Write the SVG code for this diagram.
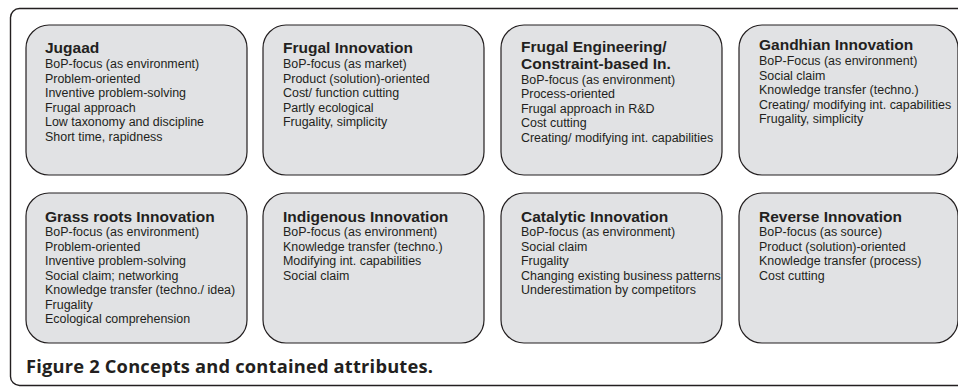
<svg xmlns="http://www.w3.org/2000/svg" width="958" height="388" viewBox="0 0 958 388">
<style>
.frame{fill:#fff;stroke:#231f20;stroke-width:1.4}
.box{fill:#e1e2e4;stroke:#231f20;stroke-width:1.2}
.t{font-family:"Liberation Sans",Arial,sans-serif;font-size:15.5px;font-weight:bold;fill:#231f20}
.b{font-family:"Liberation Sans",Arial,sans-serif;font-size:12.45px;fill:#231f20}
.cap{font-family:"Open Sans","Liberation Sans",sans-serif;font-size:18.3px;font-weight:bold;fill:#231f20}
</style>
<rect width="958" height="388" fill="#fff"/>
<rect class="frame" x="10.5" y="8.5" width="960" height="377" rx="9"/>
<g id="jugaad">
<rect class="box" x="26" y="25" width="221" height="150" rx="23"/>
<text class="t" x="45" y="53">Jugaad</text>
<text class="b" x="45" y="68">BoP-focus (as environment)</text>
<text class="b" x="45" y="82.5">Problem-oriented</text>
<text class="b" x="45" y="97">Inventive problem-solving</text>
<text class="b" x="45" y="111.5">Frugal approach</text>
<text class="b" x="45" y="126">Low taxonomy and discipline</text>
<text class="b" x="45" y="140.5">Short time, rapidness</text>
</g>
<g id="frugal-innovation">
<rect class="box" x="263" y="25" width="221" height="150" rx="23"/>
<text class="t" x="283" y="53">Frugal Innovation</text>
<text class="b" x="283" y="68">BoP-focus (as market)</text>
<text class="b" x="283" y="82.5">Product (solution)-oriented</text>
<text class="b" x="283" y="97">Cost/ function cutting</text>
<text class="b" x="283" y="111.5">Partly ecological</text>
<text class="b" x="283" y="126">Frugality, simplicity</text>
</g>
<g id="frugal-engineering">
<rect class="box" x="501" y="25" width="221" height="150" rx="23"/>
<text class="t" x="521" y="52">Frugal Engineering/</text>
<text class="t" x="521" y="69">Constraint-based In.</text>
<text class="b" x="521" y="83.5">BoP-focus (as environment)</text>
<text class="b" x="521" y="98">Process-oriented</text>
<text class="b" x="521" y="112.5">Frugal approach in R&amp;D</text>
<text class="b" x="521" y="127">Cost cutting</text>
<text class="b" x="521" y="141.5">Creating/ modifying int. capabilities</text>
</g>
<g id="gandhian">
<rect class="box" x="739" y="25" width="219" height="150" rx="23"/>
<text class="t" x="759" y="50">Gandhian Innovation</text>
<text class="b" x="759" y="65">BoP-Focus (as environment)</text>
<text class="b" x="759" y="79.5">Social claim</text>
<text class="b" x="759" y="94">Knowledge transfer (techno.)</text>
<text class="b" x="759" y="108.5">Creating/ modifying int. capabilities</text>
<text class="b" x="759" y="123">Frugality, simplicity</text>
</g>
<g id="grass-roots">
<rect class="box" x="26" y="193" width="221" height="150" rx="23"/>
<text class="t" x="45" y="222">Grass roots Innovation</text>
<text class="b" x="45" y="236">BoP-focus (as environment)</text>
<text class="b" x="45" y="250.5">Problem-oriented</text>
<text class="b" x="45" y="265">Inventive problem-solving</text>
<text class="b" x="45" y="279.5">Social claim; networking</text>
<text class="b" x="45" y="294">Knowledge transfer (techno./ idea)</text>
<text class="b" x="45" y="308.5">Frugality</text>
<text class="b" x="45" y="323">Ecological comprehension</text>
</g>
<g id="indigenous">
<rect class="box" x="263" y="193" width="221" height="150" rx="23"/>
<text class="t" x="283" y="222">Indigenous Innovation</text>
<text class="b" x="283" y="236">BoP-focus (as environment)</text>
<text class="b" x="283" y="250.5">Knowledge transfer (techno.)</text>
<text class="b" x="283" y="265">Modifying int. capabilities</text>
<text class="b" x="283" y="279.5">Social claim</text>
</g>
<g id="catalytic">
<rect class="box" x="501" y="193" width="221" height="150" rx="23"/>
<text class="t" x="521" y="222">Catalytic Innovation</text>
<text class="b" x="521" y="236">BoP-focus (as environment)</text>
<text class="b" x="521" y="250.5">Social claim</text>
<text class="b" x="521" y="265">Frugality</text>
<text class="b" x="521" y="279.5">Changing existing business patterns</text>
<text class="b" x="521" y="294">Underestimation by competitors</text>
</g>
<g id="reverse">
<rect class="box" x="739" y="193" width="219" height="150" rx="23"/>
<text class="t" x="759" y="222">Reverse Innovation</text>
<text class="b" x="759" y="236">BoP-focus (as source)</text>
<text class="b" x="759" y="250.5">Product (solution)-oriented</text>
<text class="b" x="759" y="265">Knowledge transfer (process)</text>
<text class="b" x="759" y="279.5">Cost cutting</text>
</g>
<g id="connectors"></g>
<text class="cap" x="26" y="373" textLength="407" lengthAdjust="spacing">Figure 2 Concepts and contained attributes.</text>
</svg>
